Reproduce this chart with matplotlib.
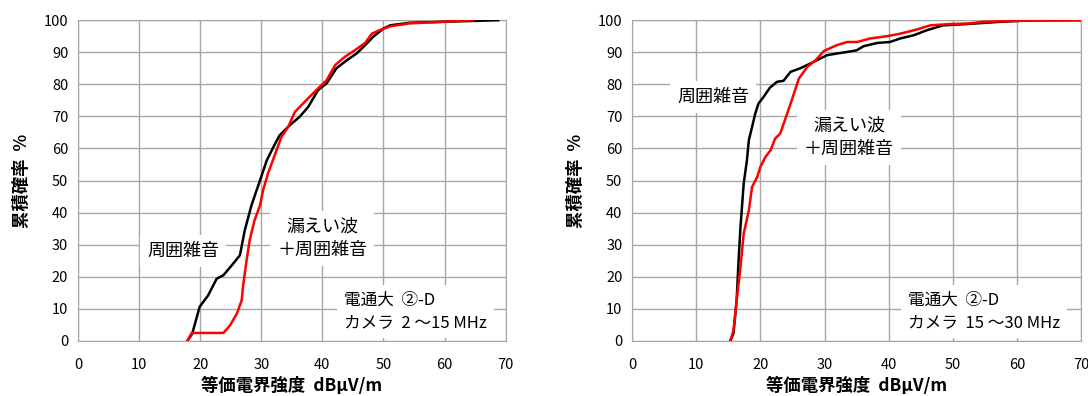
import matplotlib.pyplot as plt

plt.rcParams['font.family'] = ['Noto Sans CJK JP', 'DejaVu Sans']

# left panel: 2 ~ 15 MHz
noise_a_x = [17.9, 18.7, 19.3, 19.9, 21.3, 22.7, 23.8, 25.4, 26.5, 27.3, 28.4, 29.8, 30.9, 32.0,
             33.0, 34.7, 36.3, 37.7, 39.3, 40.7, 42.3, 44.0, 45.6, 47.0, 48.3, 50.0, 51.1, 54.3,
             59.8, 65.3, 68.8]
noise_a_y = [0, 2.3, 6.4, 10.6, 14.2, 19.4, 20.5, 24.1, 26.7, 34.5, 42.3, 50.1, 56.3, 60.5,
             64.1, 67.3, 69.9, 73.0, 78.2, 80.3, 85.0, 87.5, 89.6, 92.2, 94.8, 97.4, 98.4, 99.2,
             99.5, 99.8, 100]
leak_a_x = [17.9, 18.6, 23.8, 24.9, 26.0, 26.8, 27.0, 27.6, 28.1, 28.9, 29.8, 30.3, 31.1, 32.2,
            33.3, 34.4, 35.5, 37.4, 39.0, 40.7, 42.1, 43.7, 45.3, 47.0, 48.1, 49.4, 51.1, 54.3,
            59.8, 64.7]
leak_a_y = [0, 2.5, 2.5, 4.9, 8.5, 12.7, 16.8, 25.2, 31.4, 37.6, 42.3, 47.0, 52.2, 57.9,
            63.6, 66.7, 71.4, 75.1, 78.2, 81.3, 86.0, 88.6, 90.6, 92.9, 95.8, 96.9, 98.1, 99.0,
            99.5, 100]

# right panel: 15 ~ 30 MHz
noise_b_x = [15.3, 15.8, 16.3, 16.6, 16.9, 17.4, 17.9, 18.2, 18.7, 19.2, 19.7, 20.5, 21.5, 22.6,
             23.6, 24.7, 26.2, 27.8, 28.8, 30.4, 31.9, 33.5, 35.0, 36.1, 38.2, 40.2, 41.8, 43.9,
             46.0, 48.5, 52.2, 57.4, 62.6, 70]
noise_b_y = [0, 2.3, 12.7, 25.2, 35.6, 49.1, 56.3, 62.6, 66.7, 70.9, 74.0, 76.1, 79.0, 80.8,
             81.1, 83.9, 85.0, 86.5, 87.5, 89.1, 89.6, 90.1, 90.6, 91.9, 92.9, 93.2, 94.3, 95.3,
             96.9, 98.4, 98.8, 99.5, 100, 100]
leak_b_x = [15.3, 15.8, 16.3, 16.9, 17.4, 18.2, 18.7, 19.5, 20.0, 20.8, 21.6, 22.3, 23.1, 23.9,
            24.9, 26.0, 27.3, 28.6, 29.9, 31.9, 33.5, 35.1, 37.1, 39.7, 41.8, 44.4, 46.5, 49.6,
            52.7, 54.8, 60.0, 70]
leak_b_y = [0, 3.3, 12.7, 23.1, 33.5, 40.7, 48.0, 51.1, 54.3, 57.4, 59.5, 63.1, 64.7, 69.3,
            75.1, 81.8, 85.4, 87.5, 90.4, 92.2, 93.2, 93.2, 94.3, 95.0, 95.8, 97.1, 98.4, 98.8,
            99.0, 99.5, 99.8, 100]

xticks = [0, 10, 20, 30, 40, 50, 60, 70]
yticks = [0, 10, 20, 30, 40, 50, 60, 70, 80, 90, 100]

fig = plt.figure(figsize=(10.88, 3.96), dpi=100)
ax1 = fig.add_axes([0.0717, 0.139, 0.393, 0.810])
ax2 = fig.add_axes([0.581, 0.139, 0.4126, 0.810])

box = dict(facecolor='white', edgecolor='none', pad=5)

panels = [
    (ax1, noise_a_x, noise_a_y, leak_a_x, leak_a_y, (17.2, 28), (40.0, 32), (43.6, 3.0),
     '電通大  ②-D\nカメラ  2 ～15 MHz'),
    (ax2, noise_b_x, noise_b_y, leak_b_x, leak_b_y, (12.6, 76), (33.8, 63.5), (43.0, 3.0),
     '電通大  ②-D\nカメラ  15 ～30 MHz'),
]

for ax, nx, ny, lx, ly, p1, p2, p3, info in panels:
    ax.plot(nx, ny, color='black', lw=1.8, zorder=3)
    ax.plot(lx, ly, color='#ff0000', lw=1.8, zorder=4)
    ax.set_xlim(0, 70)
    ax.set_ylim(0, 100)
    ax.set_xticks(xticks)
    ax.set_yticks(yticks)
    ax.grid(True, color='#a6a6a6', lw=1.0)
    ax.set_axisbelow(True)
    for s in ax.spines.values():
        s.set_color('#a6a6a6')
    ax.tick_params(axis='x', length=0, labelsize=10.5, pad=12)
    ax.tick_params(axis='y', length=0, labelsize=10.5, pad=7)
    ax.set_xlabel('等価電界強度  dBμV/m', fontsize=12.5, fontweight='bold', labelpad=4)
    ax.set_ylabel('累積確率  %', fontsize=12.5, fontweight='bold', labelpad=9)
    ax.text(p1[0], p1[1], '周囲雑音', fontsize=13, ha='center', va='center', bbox=box, zorder=2)
    ax.text(p2[0], p2[1], '漏えい波\n＋周囲雑音', fontsize=13, ha='center', va='center',
            bbox=box, zorder=2, linespacing=1.35)
    ax.text(p3[0], p3[1], info, fontsize=12, ha='left', va='bottom', bbox=box, zorder=2,
            linespacing=1.4)

fig.savefig('out.png', dpi=100)
